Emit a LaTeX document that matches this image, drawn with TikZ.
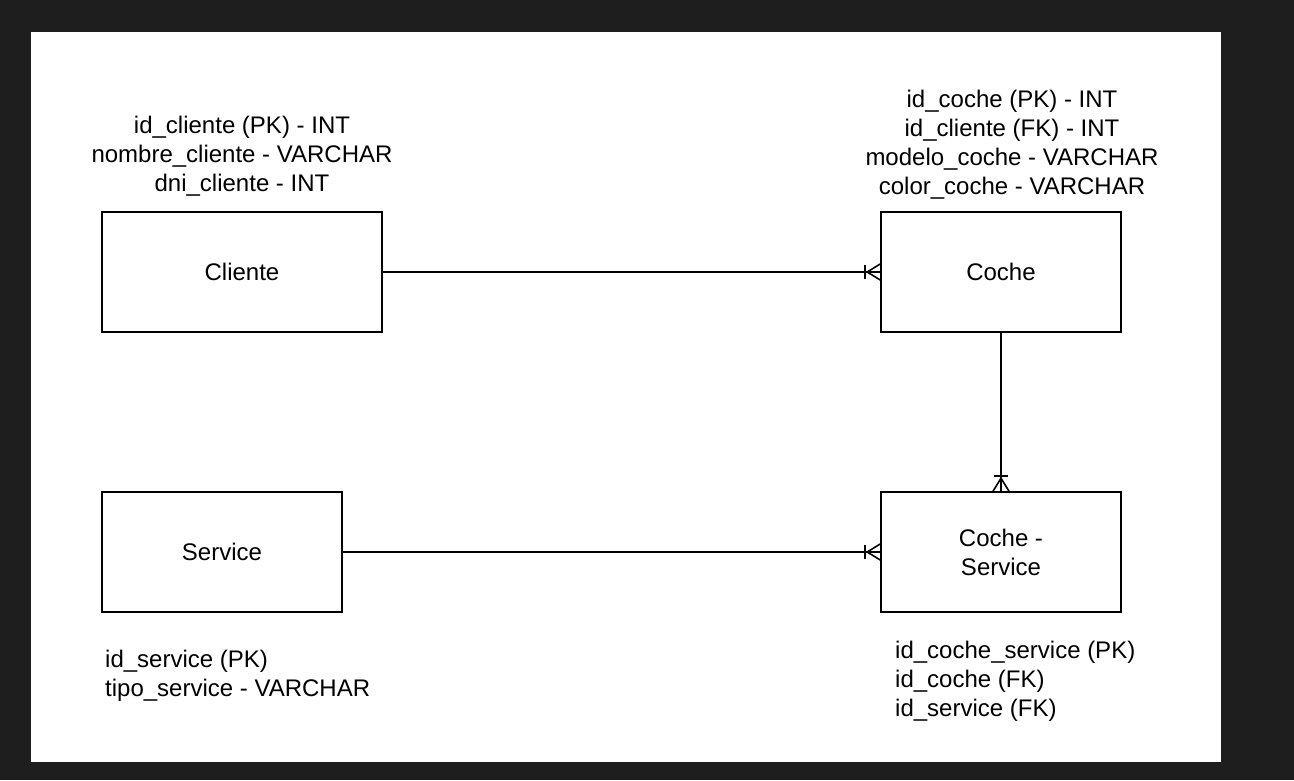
\documentclass[tikz,border=0pt]{standalone}
\usepackage{fontspec}
\setmainfont{Liberation Sans}
\usepackage{tikz}
\definecolor{backdrop}{HTML}{1E1E1E}
\tikzstyle{entity} = [draw=black, line width=1.6pt, fill=white, minimum width=240pt, minimum height=120pt, inner sep=0pt, align=center]
\tikzstyle{attrs} = [inner sep=0pt, font={\fontsize{24}{29}\selectfont}]
\tikzstyle{rel} = [draw=black, line width=1.6pt]

\begin{document}
\begin{tikzpicture}[x=1pt,y=-1pt,font={\fontsize{24}{29}\selectfont}]
  \fill[backdrop] (0,0) rectangle (1294,780);
  \fill[white] (31,32) rectangle (1221,762);
  \useasboundingbox (0,0) rectangle (1294,780);
  % tables
  \node[entity,minimum width=280pt](cliente) at (242,272){Cliente};
  \node[entity](coche) at (1001,272){Coche};
  \node[entity](service) at (222,552){Service};
  \node[entity](cocheservice) at (1001,552){Coche -\\Service};
  % columns
  \node[attrs,align=center](clienteattrs) at (242,156){id\_cliente (PK) - INT\\nombre\_cliente - VARCHAR\\dni\_cliente - INT};
  \node[attrs,align=center](cocheattrs) at (1012,145){id\_coche (PK) - INT\\id\_cliente (FK) - INT\\modelo\_coche - VARCHAR\\color\_coche - VARCHAR};
  \node[attrs,align=left,anchor=west](serviceattrs) at (105,676){id\_service (PK)\\tipo\_service - VARCHAR};
  \node[attrs,align=left,anchor=west](cocheserviceattrs) at (895,681){id\_coche\_service (PK)\\id\_coche (FK)\\id\_service (FK)};
  % relations
  \draw[rel](cliente.east)--(coche.west);
  \draw[rel]([yshift=-8]coche.west)--([xshift=-13]coche.west)--([yshift=8]coche.west);
  \draw[rel]([xshift=-15,yshift=-7]coche.west)--([xshift=-15,yshift=7]coche.west);
  \draw[rel](service.east)--(cocheservice.west);
  \draw[rel]([yshift=-8]cocheservice.west)--([xshift=-13]cocheservice.west)--([yshift=8]cocheservice.west);
  \draw[rel]([xshift=-15,yshift=-7]cocheservice.west)--([xshift=-15,yshift=7]cocheservice.west);
  \draw[rel](coche.south)--(cocheservice.north);
  \draw[rel]([xshift=-8]cocheservice.north)--([yshift=13]cocheservice.north)--([xshift=8]cocheservice.north);
  \draw[rel]([xshift=-7,yshift=15]cocheservice.north)--([xshift=7,yshift=15]cocheservice.north);
\end{tikzpicture}
\end{document}
